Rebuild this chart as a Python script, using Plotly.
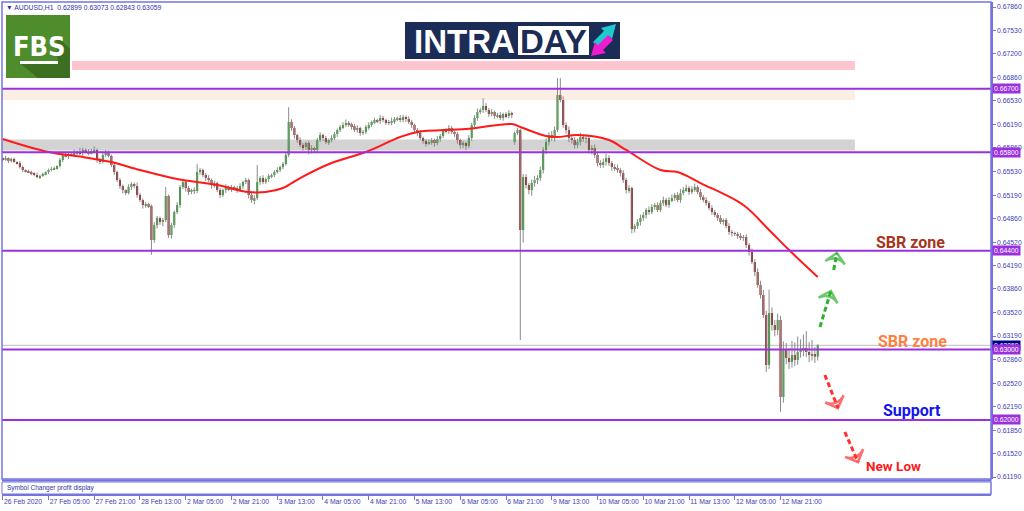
import plotly.graph_objects as go

# ---------------- DATA ----------------
symbol_header = "▼ AUDUSD,H1  0.62899 0.63073 0.62843 0.63059"

closes = [
    0.65689, 0.65717, 0.65674, 0.65703, 0.65660, 0.65646, 0.65589, 0.65547, 0.65532, 0.65518,
    0.65504, 0.65476, 0.65447, 0.65461, 0.65490, 0.65518, 0.65547, 0.65561, 0.65575, 0.65603,
    0.65689, 0.65760, 0.65745, 0.65774, 0.65760, 0.65788, 0.65802, 0.65788, 0.65831, 0.65802,
    0.65788, 0.65816, 0.65831, 0.65689, 0.65660, 0.65760, 0.65802, 0.65745, 0.65618, 0.65518,
    0.65405, 0.65319, 0.65263, 0.65220, 0.65305, 0.65348, 0.65319, 0.65192, 0.65121, 0.65050,
    0.65064, 0.65036, 0.64553, 0.64766, 0.64866, 0.64809, 0.64837, 0.65177, 0.64624, 0.64766,
    0.64951, 0.65050, 0.65305, 0.65376, 0.65291, 0.65234, 0.65263, 0.65249, 0.65518, 0.65547,
    0.65476, 0.65433, 0.65405, 0.65334, 0.65362, 0.65263, 0.65192, 0.65263, 0.65305, 0.65277,
    0.65305, 0.65291, 0.65263, 0.65319, 0.65376, 0.65405, 0.65192, 0.65121, 0.65149, 0.65376,
    0.65433, 0.65376, 0.65419, 0.65461, 0.65476, 0.65518, 0.65547, 0.65589, 0.65632, 0.65760,
    0.66228, 0.66143, 0.66043, 0.65972, 0.65901, 0.65873, 0.65930, 0.65831, 0.65859, 0.65831,
    0.65972, 0.66043, 0.66001, 0.65944, 0.65972, 0.66001, 0.66058, 0.66114, 0.66157, 0.66185,
    0.66214, 0.66199, 0.66171, 0.66114, 0.66143, 0.66072, 0.66086, 0.66157, 0.66185, 0.66228,
    0.66256, 0.66242, 0.66285, 0.66256, 0.66228, 0.66214, 0.66242, 0.66270, 0.66285, 0.66256,
    0.66299, 0.66270, 0.66228, 0.66185, 0.66114, 0.66072, 0.66001, 0.65958, 0.65930, 0.65944,
    0.65972, 0.65930, 0.65987, 0.66029, 0.66114, 0.66100, 0.66143, 0.66086, 0.66058, 0.65972,
    0.65901, 0.65930, 0.65887, 0.66001, 0.66185, 0.66285, 0.66370, 0.66398, 0.66455, 0.66398,
    0.66341, 0.66370, 0.66313, 0.66327, 0.66285, 0.66341, 0.66313, 0.66356, 0.66327, 0.66072,
    0.66114, 0.64695, 0.65447, 0.65334, 0.65263, 0.65362, 0.65405, 0.65433, 0.65547, 0.65831,
    0.65944, 0.66043, 0.66001, 0.66114, 0.66611, 0.66540, 0.66185, 0.66114, 0.66001, 0.65972,
    0.65901, 0.65944, 0.66015, 0.65987, 0.66001, 0.65831, 0.65859, 0.65760, 0.65646, 0.65618,
    0.65660, 0.65717, 0.65646, 0.65589, 0.65575, 0.65547, 0.65504, 0.65405, 0.65263, 0.65291,
    0.64709, 0.64752, 0.64809, 0.64866, 0.64908, 0.64979, 0.64951, 0.65022, 0.65050, 0.64979,
    0.65078, 0.65121, 0.65050, 0.65121, 0.65149, 0.65192, 0.65121, 0.65220, 0.65263, 0.65291,
    0.65234, 0.65277, 0.65305, 0.65234, 0.65163, 0.65121, 0.65078, 0.65007, 0.64951, 0.64908,
    0.64866, 0.64809, 0.64837, 0.64752, 0.64667, 0.64653, 0.64639, 0.64610, 0.64582, 0.64596,
    0.64482, 0.64383, 0.64241, 0.64100, 0.63915, 0.63773, 0.63489, 0.62780, 0.63518, 0.63347,
    0.63276, 0.63418, 0.62326, 0.62993, 0.62879, 0.62822, 0.62921, 0.62851, 0.62964, 0.62993,
    0.63021, 0.62964, 0.62921, 0.62936, 0.62899, 0.63059,
]

first_open = 0.65704
gap_opens = {179: 0.65944}

upper_wick_pips = [
    2, 3, 1, 2, 2, 1, 3, 2, 1, 2,
    2, 1, 3, 2, 2, 1, 2, 3, 2, 1,
    3, 2, 4, 2, 3, 5, 2, 6, 3, 2,
    4, 3, 5, 2, 3, 5, 3, 2, 2, 3,
    2, 3, 2, 1, 4, 3, 2, 5, 3, 2,
    3, 2, 2, 4, 3, 2, 3, 13, 2, 3,
    2, 4, 3, 3, 2, 3, 2, 4, 11, 3,
    2, 3, 4, 2, 3, 2, 3, 2, 4, 2,
    3, 2, 3, 4, 2, 3, 2, 3, 4, 24,
    3, 4, 2, 3, 2, 3, 4, 2, 3, 4,
    21, 4, 3, 2, 4, 3, 2, 3, 4, 2,
    3, 4, 2, 3, 2, 4, 3, 2, 3, 4,
    5, 3, 2, 3, 4, 2, 3, 3, 4, 2,
    3, 2, 4, 3, 2, 3, 5, 3, 2, 4,
    3, 2, 4, 3, 2, 3, 4, 2, 3, 4,
    3, 2, 4, 3, 2, 3, 4, 3, 2, 3,
    2, 3, 2, 4, 3, 4, 5, 3, 11, 4,
    3, 4, 2, 3, 4, 2, 3, 4, 2, 2,
    3, 2, 4, 4, 3, 5, 6, 4, 5, 4,
    5, 4, 6, 5, 24, 24, 5, 4, 5, 4,
    4, 5, 6, 4, 5, 3, 4, 5, 3, 4,
    5, 6, 4, 3, 4, 5, 3, 4, 3, 4,
    2, 3, 4, 5, 4, 3, 5, 4, 3, 4,
    4, 5, 3, 4, 5, 3, 4, 6, 4, 5,
    3, 4, 5, 3, 4, 3, 4, 3, 4, 3,
    3, 4, 2, 3, 4, 3, 2, 3, 4, 3,
    4, 3, 5, 4, 5, 6, 7, 6, 33, 8,
    7, 9, 6, 12, 10, 14, 20, 18, 22, 15,
    19, 24, 14, 20, 10, 1.4,
]

lower_wick_pips = [
    2, 1, 3, 2, 1, 2, 2, 3, 2, 1,
    3, 2, 2, 3, 1, 2, 3, 2, 1, 2,
    2, 3, 2, 4, 2, 3, 2, 3, 4, 2,
    3, 2, 3, 4, 3, 2, 3, 2, 3, 4,
    3, 4, 5, 3, 2, 4, 3, 4, 3, 5,
    4, 3, 21, 4, 5, 4, 6, 3, 4, 5,
    4, 3, 4, 3, 5, 4, 3, 4, 3, 4,
    3, 4, 3, 5, 4, 3, 4, 3, 4, 3,
    4, 3, 4, 3, 4, 3, 5, 4, 6, 3,
    4, 3, 3, 4, 3, 3, 2, 3, 3, 2,
    3, 4, 5, 4, 3, 5, 4, 6, 5, 4,
    4, 3, 4, 3, 4, 3, 3, 4, 3, 3,
    3, 4, 5, 3, 4, 4, 3, 3, 4, 3,
    3, 3, 4, 3, 4, 3, 3, 4, 3, 3,
    3, 4, 3, 4, 5, 4, 3, 4, 5, 3,
    4, 5, 3, 4, 3, 3, 4, 3, 4, 5,
    5, 4, 6, 3, 4, 3, 4, 3, 4, 3,
    4, 3, 4, 3, 3, 4, 3, 3, 4, 4,
    3, 156, 18, 5, 6, 8, 5, 6, 4, 5,
    6, 5, 4, 5, 3, 3, 4, 5, 6, 5,
    5, 4, 5, 4, 6, 5, 6, 4, 5, 4,
    4, 5, 4, 5, 4, 4, 5, 4, 5, 4,
    6, 5, 4, 5, 4, 5, 4, 3, 4, 3,
    3, 4, 3, 4, 3, 4, 3, 4, 3, 3,
    4, 3, 4, 3, 4, 3, 4, 3, 4, 3,
    4, 3, 4, 3, 4, 5, 3, 4, 3, 4,
    4, 5, 3, 6, 4, 5, 4, 10, 6, 8,
    9, 7, 21, 8, 9, 10, 8, 9, 7, 8,
    9, 7, 10, 8, 9, 5.6,
]

# moving average (red line) sampled along the chart: bar index / value
ma_bar = [0, 16, 28, 38, 48, 61, 75, 86, 92, 98, 104, 115, 127, 139, 145,
          162, 178, 181, 190, 194, 201, 212, 218, 230, 236, 244, 259, 268, 275, 285]
ma_val = [0.65987, 0.65802, 0.65731, 0.65660, 0.65547, 0.65419, 0.65334, 0.65234,
          0.65234, 0.65291, 0.65433, 0.65646, 0.65802, 0.66015, 0.66086, 0.66128,
          0.66199, 0.66157, 0.66029, 0.66015, 0.66043, 0.65972, 0.65831, 0.65547,
          0.65518, 0.65362, 0.65050, 0.64695, 0.64411, 0.64028]

level_prices = [0.66700, 0.65800, 0.64400, 0.63000, 0.62000]
level_labels = ["0.66700", "0.65800", "0.64400", "0.63000", "0.62000"]
current_price = 0.63059
current_label = "0.63059"

# zones: (bar_from, bar_to, price_low, price_high, colour)
zones = [
    (24.2, 298.0, 0.66966, 0.67093, "#ffc4cf"),
    (-0.5, 298.0, 0.66540, 0.66682, "#fbefe4"),
    (-0.5, 298.0, 0.65823, 0.65979, "#d3d3d3"),
]

price_tick_vals = [0.67860, 0.67530, 0.67200, 0.66860, 0.66530, 0.66190, 0.65860,
                   0.65530, 0.65190, 0.64860, 0.64520, 0.64190, 0.63860, 0.63520,
                   0.63190, 0.62860, 0.62520, 0.62190, 0.61850, 0.61520, 0.61190]
price_tick_text = ["%.5f" % v for v in price_tick_vals]

date_idx = [0, 16, 32, 48, 64, 80, 96, 112, 128, 144, 160, 176, 192, 208, 224, 240, 256, 272]
date_labels = ["26 Feb 2020", "27 Feb 05:00", "27 Feb 21:00", "28 Feb 13:00", "2 Mar 05:00",
               "2 Mar 21:00", "3 Mar 13:00", "4 Mar 05:00", "4 Mar 21:00", "5 Mar 13:00",
               "6 Mar 05:00", "6 Mar 21:00", "9 Mar 13:00", "10 Mar 05:00", "10 Mar 21:00",
               "11 Mar 13:00", "12 Mar 05:00", "12 Mar 21:00"]

# scenario arrows (bar index, price) and labels
green_arrows = [([285.8, 289.6], [0.63319, 0.63830]), ([290.6, 291.7], [0.64128, 0.64369])]
red_arrows = [([287.5, 292.1], [0.62638, 0.62169]), ([294.5, 299.1], [0.61829, 0.61403])]
text_labels = [
    ("SBR zone", 317.6, 0.64525, "#a5361b", 16),
    ("SBR zone", 318.3, 0.63107, "#ff8040", 16),
    ("Support", 318.0, 0.62129, "#1414f0", 16),
    ("New Low", 311.4, 0.61346, "#ff1c1c", 13.5),
]

# ---------------- DERIVED OHLC ----------------
n = len(closes)
opens = []
for i in range(n):
    if i == 0:
        opens.append(first_open)
    elif i in gap_opens:
        opens.append(gap_opens[i])
    else:
        opens.append(closes[i - 1])
highs = [max(opens[i], closes[i]) + upper_wick_pips[i] / 10000 for i in range(n)]
lows = [min(opens[i], closes[i]) - lower_wick_pips[i] / 10000 for i in range(n)]
bars = list(range(n))

# ---------------- STYLE ----------------
FRAME = "#7474e0"
TXT = "#4040b4"
PURPLE = "#9b30e0"
AXFONT = dict(family="Liberation Sans, Arial, sans-serif", size=6.8, color=TXT)


def px(x):
    return (x - 2) / 989


def py(y):
    return (495 - y) / 493


fig = go.Figure()

# wicks
wx, wy = [], []
for i in bars:
    wx += [i, i, None]
    wy += [lows[i], highs[i], None]
fig.add_trace(go.Scatter(x=wx, y=wy, mode="lines", line=dict(color="#8a8a8a", width=1),
                         hoverinfo="skip", showlegend=False))

# bodies
body_h = [abs(closes[i] - opens[i]) for i in bars]
body_b = [min(closes[i], opens[i]) for i in bars]
body_c = ["#1e9e1e" if closes[i] >= opens[i] else "#8b0b0b" for i in bars]
fig.add_trace(go.Bar(x=bars, y=body_h, base=body_b, width=0.72,
                     marker=dict(color=body_c, line=dict(width=0)),
                     hoverinfo="skip", showlegend=False))

# moving average
fig.add_trace(go.Scatter(x=ma_bar, y=ma_val, mode="lines", line=dict(color="#ff1a1a", width=2, shape="spline"),
                         hoverinfo="skip", showlegend=False))

# arrows
for arrows, col in ((green_arrows, "#2fb02f"), (red_arrows, "#ff3030")):
    for xs, ys in arrows:
        fig.add_trace(go.Scatter(
            x=xs, y=ys, mode="lines+markers",
            line=dict(color=col, width=3, dash="5px,3px"),
            marker=dict(symbol="arrow-wide-open", size=[0, 14], angleref="previous",
                        color=col, line=dict(color=col, width=2.5)),
            hoverinfo="skip", showlegend=False))

shapes = []
# zones
for x0, x1, y0, y1, col in zones:
    shapes.append(dict(type="rect", xref="x", yref="y", x0=x0, x1=x1, y0=y0, y1=y1,
                       fillcolor=col, line=dict(width=0), layer="below"))
# level lines
for lv in level_prices:
    shapes.append(dict(type="line", xref="paper", yref="y", x0=0, x1=1, y0=lv, y1=lv,
                       line=dict(color=PURPLE, width=2), layer="above"))
shapes.append(dict(type="line", xref="paper", yref="y", x0=0, x1=1, y0=current_price, y1=current_price,
                   line=dict(color="#bdbdbd", width=1), layer="below"))
# frames
shapes.append(dict(type="rect", xref="paper", yref="paper", x0=px(2), x1=px(991), y0=py(479), y1=py(2),
                   line=dict(color=FRAME, width=1.5)))
shapes.append(dict(type="line", xref="paper", yref="paper", x0=px(2), x1=px(991), y0=py(480.5), y1=py(480.5),
                   line=dict(color=FRAME, width=2)))
shapes.append(dict(type="rect", xref="paper", yref="paper", x0=px(2), x1=px(991), y0=py(494), y1=py(482),
                   line=dict(color=FRAME, width=1)))
shapes.append(dict(type="line", xref="paper", yref="paper", x0=px(991), x1=px(991), y0=py(495), y1=py(479),
                   line=dict(color=FRAME, width=1)))

# FBS logo
shapes.append(dict(type="rect", xref="paper", yref="paper", x0=px(6), x1=px(70), y0=py(78), y1=py(15),
                   fillcolor="#4f8c2c", line=dict(width=0)))
shapes.append(dict(type="path", xref="paper", yref="paper",
                   path=f"M {px(56)} {py(35)} L {px(70)} {py(49)} L {px(70)} {py(78)} L {px(38)} {py(78)} "
                        f"L {px(21)} {py(64)} L {px(58)} {py(64)} Z",
                   fillcolor="#3c6f21", line=dict(width=0)))
shapes.append(dict(type="rect", xref="paper", yref="paper", x0=px(20), x1=px(58), y0=py(64), y1=py(61),
                   fillcolor="#ffffff", line=dict(width=0)))
# INTRADAY logo
shapes.append(dict(type="rect", xref="paper", yref="paper", x0=px(405), x1=px(620), y0=py(59), y1=py(22),
                   fillcolor="#1b2d57", line=dict(width=0)))
shapes.append(dict(type="rect", xref="paper", yref="paper", x0=px(518), x1=px(589), y0=py(55), y1=py(26),
                   fillcolor="#ffffff", line=dict(width=0)))
shapes.append(dict(type="path", xref="paper", yref="paper",
                   path=f"M {px(593)} {py(42)} L {px(604)} {py(31)} L {px(601)} {py(28)} L {px(616)} {py(24)} "
                        f"L {px(612)} {py(39)} L {px(609)} {py(36)} L {px(598)} {py(47)} Z",
                   fillcolor="#1ccad0", line=dict(width=0)))
shapes.append(dict(type="path", xref="paper", yref="paper",
                   path=f"M {px(613)} {py(40)} L {px(603)} {py(50)} L {px(606)} {py(53)} L {px(591)} {py(56)} "
                        f"L {px(595)} {py(42)} L {px(598)} {py(45)} L {px(608)} {py(35)} Z",
                   fillcolor="#f01ccf", line=dict(width=0)))

annotations = []
# price boxes on the right axis
annotations.append(dict(xref="paper", yref="y", x=1, y=current_price, xanchor="left", yanchor="middle",
                        xshift=1, text=current_label, showarrow=False, bgcolor="#00008b",
                        font=dict(family="Liberation Sans, Arial, sans-serif", size=6.8, color="#ffffff"),
                        borderpad=1))
for lv, lab in zip(level_prices, level_labels):
    annotations.append(dict(xref="paper", yref="y", x=1, y=lv, xanchor="left", yanchor="middle",
                            xshift=1, text=lab, showarrow=False, bgcolor=PURPLE,
                            font=dict(family="Liberation Sans, Arial, sans-serif", size=6.8, color="#ffffff"),
                            borderpad=1))
# scenario labels
for txt, bx, pr, col, sz in text_labels:
    annotations.append(dict(xref="x", yref="y", x=bx, y=pr, text=f"<b>{txt}</b>", showarrow=False,
                            xanchor="center", yanchor="middle",
                            font=dict(family="Roboto, Arial, sans-serif", size=sz, color=col)))
# header + sub-window caption
annotations.append(dict(xref="paper", yref="paper", x=px(4), y=py(7), xanchor="left", yanchor="middle",
                        text=symbol_header, showarrow=False,
                        font=dict(family="Liberation Sans, Arial, sans-serif", size=6.8, color="#3232a8")))
annotations.append(dict(xref="paper", yref="paper", x=px(5), y=py(488), xanchor="left", yanchor="middle",
                        text="Symbol Changer profit display", showarrow=False,
                        font=dict(family="Liberation Sans, Arial, sans-serif", size=6.5, color="#3232a8")))
# logo texts
annotations.append(dict(xref="paper", yref="paper", x=px(39), y=py(46), xanchor="center", yanchor="middle",
                        text="<b>FBS</b>", showarrow=False,
                        font=dict(family="Liberation Sans Narrow, DejaVu Sans Condensed, Roboto, sans-serif",
                                  size=27, color="#ffffff")))
annotations.append(dict(xref="paper", yref="paper", x=px(464), y=py(41), xanchor="center", yanchor="middle",
                        text="<b>INTRA</b>", showarrow=False,
                        font=dict(family="Liberation Sans, Arial, sans-serif", size=33, color="#ffffff")))
annotations.append(dict(xref="paper", yref="paper", x=px(553), y=py(41), xanchor="center", yanchor="middle",
                        text="<b>DAY</b>", showarrow=False,
                        font=dict(family="Liberation Sans, Arial, sans-serif", size=33, color="#1b2d57")))

fig.update_layout(
    width=1024, height=511,
    margin=dict(l=2, r=33, t=2, b=16, pad=0),
    paper_bgcolor="#ffffff", plot_bgcolor="#ffffff",
    showlegend=False, hovermode=False,
    shapes=shapes, annotations=annotations,
    xaxis=dict(range=[-0.25, 345.6], anchor="free", position=0, showgrid=False, zeroline=False,
               showline=True, linecolor=FRAME, linewidth=1.5,
               tickmode="array", tickvals=date_idx, ticktext=date_labels, tickangle=0,
               ticks="outside", ticklen=4, tickcolor=FRAME, tickwidth=1,
               ticklabelposition="outside right", tickfont=AXFONT, fixedrange=True),
    yaxis=dict(domain=[(495 - 479) / 493, 1], range=[0.61162, 0.67931], side="right",
               showgrid=False, zeroline=False, showline=True, linecolor=FRAME, linewidth=1.5,
               tickmode="array", tickvals=price_tick_vals, ticktext=price_tick_text,
               ticks="outside", ticklen=3, tickcolor=FRAME, tickfont=AXFONT, fixedrange=True),
)

fig.write_html("out.html", config={"displayModeBar": False},
               post_script="document.body.style.margin='0px';document.body.style.overflow='hidden';")
